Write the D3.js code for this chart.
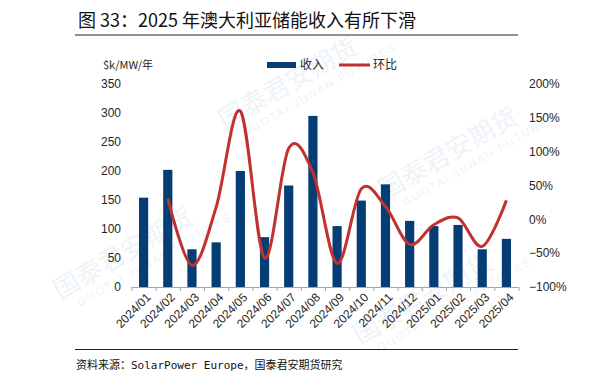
<!DOCTYPE html>
<html>
<head>
<meta charset="utf-8">
<script src="https://cdn.jsdelivr.net/npm/d3@7"></script>
<style>
  html, body { margin: 0; padding: 0; background: #fff; }
  svg { display: block; }
</style>
</head>
<body>
<script>
  const months = [
    '2024/01', '2024/02', '2024/03', '2024/04', '2024/05', '2024/06', '2024/07', '2024/08',
    '2024/09', '2024/10', '2024/11', '2024/12', '2025/01', '2025/02', '2025/03', '2025/04'
  ];
  // 收入, $k/MW/年
  const revenue = [154, 202, 65, 77, 200, 86, 175, 295, 105, 149, 177, 114, 105, 107, 65, 83];
  // 环比, % (no value for the first month)
  const mom = [null, 31, -68, 18, 160, -57, 105, 69, -65, 45, 19, -37, -8, 2, -40, 28];
  const leftTicks = [0, 50, 100, 150, 200, 250, 300, 350];
  const rightTicks = [-100, -50, 0, 50, 100, 150, 200];

  const width = 593;
  const height = 385;
  const barColor = '#053e74';
  const lineColor = '#c0312f';
  const textColor = '#262626';
  const cjk = '"Noto Sans CJK SC", sans-serif';

  const svg = d3.select('body')
    .append('svg')
    .attr('width', width)
    .attr('height', height);

  // faint watermark
  const wm = svg.append('g').attr('fill', '#eef3f8').attr('font-family', cjk);
  [[225, 130], [385, 200], [60, 300], [360, 345]]
    .forEach(([x, y]) => {
      const g = wm.append('g').attr('transform', `translate(${x},${y}) rotate(-30)`);
      g.append('text').attr('font-size', 26).text('国泰君安期货');
      g.append('text').attr('y', 16).attr('x', 14).attr('font-size', 11)
        .attr('font-family', 'Liberation Sans, sans-serif').attr('letter-spacing', 2)
        .text('GUOTAI JUNAN FUTURES');
    });

  // title
  svg.append('text')
    .attr('x', 78)
    .attr('y', 27)
    .attr('font-family', cjk)
    .attr('font-size', 18)
    .attr('fill', '#111')
    .text('图 33：2025 年澳大利亚储能收入有所下滑');

  svg.append('line')
    .attr('x1', 75).attr('x2', 518)
    .attr('y1', 35).attr('y2', 35)
    .attr('stroke', '#222').attr('stroke-width', 1);

  // scales
  const x = d3.scaleBand()
    .domain(months)
    .range([131.5, 518.5])
    .paddingInner(0.62)
    .paddingOuter(0.31);
  const step = x.step();
  const cx = m => x(m) + x.bandwidth() / 2;

  const yL = d3.scaleLinear().domain([0, 350]).range([287, 84]);
  const yR = d3.scaleLinear().domain([-100, 200]).range([287, 84]);

  // left axis labels
  svg.append('g')
    .selectAll('text')
    .data(leftTicks)
    .enter()
    .append('text')
    .attr('x', 121)
    .attr('y', d => yL(d))
    .attr('dy', '0.35em')
    .attr('text-anchor', 'end')
    .attr('font-family', 'Liberation Sans, Arial, sans-serif')
    .attr('font-size', 12)
    .attr('fill', textColor)
    .text(d => d);

  // right axis labels
  svg.append('g')
    .selectAll('text')
    .data(rightTicks)
    .enter()
    .append('text')
    .attr('x', 529)
    .attr('y', d => yR(d))
    .attr('dy', '0.35em')
    .attr('font-family', 'Liberation Sans, Arial, sans-serif')
    .attr('font-size', 12)
    .attr('fill', textColor)
    .text(d => (d < 0 ? '\u2212' + Math.abs(d) : d) + '%');

  // bars
  svg.append('g')
    .selectAll('rect')
    .data(revenue)
    .enter()
    .append('rect')
    .attr('x', (d, i) => x(months[i]))
    .attr('y', d => yL(d))
    .attr('width', x.bandwidth())
    .attr('height', d => yL(0) - yL(d))
    .attr('fill', barColor);

  // x axis line + ticks
  const axis = svg.append('g').attr('stroke', '#a6a6a6').attr('stroke-width', 1);
  axis.append('line')
    .attr('x1', x.range()[0]).attr('x2', x.range()[1])
    .attr('y1', yL(0) + 0.5).attr('y2', yL(0) + 0.5);
  axis.selectAll('.tk')
    .data(d3.range(months.length + 1))
    .enter()
    .append('line')
    .attr('x1', i => x.range()[0] + i * step + 0.5)
    .attr('x2', i => x.range()[0] + i * step + 0.5)
    .attr('y1', yL(0))
    .attr('y2', yL(0) + 4);

  // x labels
  svg.append('g')
    .selectAll('text')
    .data(months)
    .enter()
    .append('text')
    .attr('transform', d => `translate(${cx(d) + 5},${yL(0) + 8}) rotate(-45)`)
    .attr('text-anchor', 'end')
    .attr('dy', '0.35em')
    .attr('font-family', 'Liberation Sans, Arial, sans-serif')
    .attr('font-size', 12)
    .attr('fill', textColor)
    .text(d => d);

  // line
  const line = d3.line()
    .defined(d => d != null)
    .x((d, i) => cx(months[i]))
    .y(d => yR(d))
    .curve(d3.curveCardinal.tension(0));

  svg.append('path')
    .datum(mom)
    .attr('d', line)
    .attr('fill', 'none')
    .attr('stroke', lineColor)
    .attr('stroke-width', 3);

  // unit label
  svg.append('text')
    .attr('x', 103)
    .attr('y', 65)
    .attr('dy', '0.35em')
    .attr('font-family', cjk)
    .attr('font-size', 11)
    .attr('fill', textColor)
    .text('$k/MW/年');

  // legend
  const legend = svg.append('g').attr('font-family', cjk).attr('font-size', 12).attr('fill', textColor);
  legend.append('rect')
    .attr('x', 267).attr('y', 62).attr('width', 29).attr('height', 6)
    .attr('fill', barColor);
  legend.append('text').attr('x', 300).attr('y', 65).attr('dy', '0.35em').text('收入');
  legend.append('line')
    .attr('x1', 339).attr('x2', 370).attr('y1', 65).attr('y2', 65)
    .attr('stroke', lineColor).attr('stroke-width', 3);
  legend.append('text').attr('x', 373).attr('y', 65).attr('dy', '0.35em').text('环比');

  // source
  svg.append('line')
    .attr('x1', 75).attr('x2', 518)
    .attr('y1', 349.5).attr('y2', 349.5)
    .attr('stroke', '#222').attr('stroke-width', 1);

  svg.append('text')
    .attr('x', 76)
    .attr('y', 369)
    .attr('font-family', '"DejaVu Sans Mono", "Noto Sans CJK SC", monospace')
    .attr('font-size', 11)
    .attr('fill', '#111')
    .text('资料来源：SolarPower Europe，国泰君安期货研究');
</script>
</body>
</html>
